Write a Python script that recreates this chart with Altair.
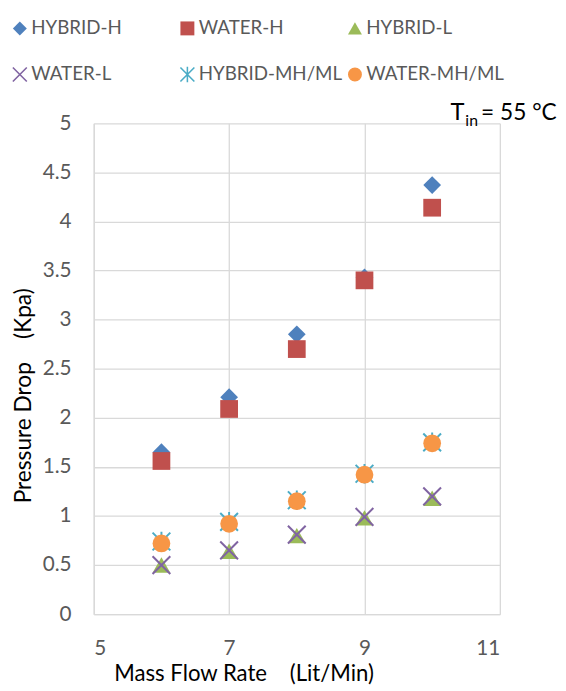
import altair as alt
import pandas as pd

# ---- data ----
flow_rate = [6, 7, 8, 9, 10]
series_names = ["HYBRID-H", "WATER-H", "HYBRID-L", "WATER-L", "HYBRID-MH/ML", "WATER-MH/ML"]
hybrid_h = [1.65, 2.21, 2.85, 3.43, 4.37]
water_h = [1.56, 2.09, 2.70, 3.40, 4.14]
hybrid_l = [0.50, 0.64, 0.80, 0.98, 1.18]
water_l = [0.50, 0.65, 0.81, 0.99, 1.20]
hybrid_mhml = [0.74, 0.94, 1.16, 1.43, 1.75]
water_mhml = [0.72, 0.92, 1.15, 1.42, 1.74]
x_ticks = [5, 7, 9, 11]
y_ticks = [0, 0.5, 1, 1.5, 2, 2.5, 3, 3.5, 4, 4.5, 5]

colors = ["#4F81BD", "#C0504D", "#9BBB59", "#8064A2", "#4BACC6", "#F79646"]
X_PATH = ("M-0.92,-1.08L1.08,0.92L0.92,1.08L-1.08,-0.92Z "
          "M-1.08,0.92L0.92,-1.08L1.08,-0.92L-0.92,1.08Z")
AST_PATH = ("M-0.92,-1.08L1.08,0.92L0.92,1.08L-1.08,-0.92Z "
            "M-1.08,0.92L0.92,-1.08L1.08,-0.92L-0.92,1.08Z "
            "M-0.11,-1.1L0.11,-1.1L0.11,1.1L-0.11,1.1Z")
shapes = ["diamond", "square", "triangle-up", X_PATH, AST_PATH, "circle"]

rows = []
for name, vals in zip(series_names, [hybrid_h, water_h, hybrid_l, water_l, hybrid_mhml, water_mhml]):
    for f, v in zip(flow_rate, vals):
        rows.append({"series": name, "flow": f, "drop": v})
df = pd.DataFrame(rows)

# legend fills column by column (2 rows), so order the scale domain accordingly
legend_order = [0, 3, 1, 4, 2, 5]
dom = [series_names[i] for i in legend_order]
col_rng = [colors[i] for i in legend_order]
shp_rng = [shapes[i] for i in legend_order]

FONT = "Lato"
GRID = "#D9D9D9"

legend_kw = dict(
    title=None, orient="none", legendX=-84.5, legendY=-106, columns=3,
    gridAlign="all", symbolSize=200, symbolStrokeWidth=0,
    labelFont=FONT, labelFontSize=19, labelColor="#595959", labelOffset=2,
    labelLimit=300, rowPadding=27, columnPadding=3, padding=0,
)

points = alt.Chart(df).mark_point(filled=True, size=324, opacity=1, strokeWidth=0).encode(
    x=alt.X("flow:Q",
            scale=alt.Scale(domain=[5, 11], nice=False, zero=False),
            axis=alt.Axis(values=x_ticks, title="Mass Flow Rate\u00a0\u00a0\u00a0\u00a0(Lit/Min)",
                          labelPadding=24, titleX=152, titleY=67, titleAlign="center",
                          titleBaseline="alphabetic")),
    y=alt.Y("drop:Q",
            scale=alt.Scale(domain=[0, 5], nice=False),
            axis=alt.Axis(values=y_ticks, format="~g", title="Pressure Drop\u00a0\u00a0\u00a0\u00a0(Kpa)",
                          labelPadding=23, titleX=-64, titleY=276, titleAlign="center",
                          titleBaseline="alphabetic", titleFontSize=23)),
    color=alt.Color("series:N", scale=alt.Scale(domain=dom, range=col_rng),
                    legend=alt.Legend(**legend_kw)),
    shape=alt.Shape("series:N", scale=alt.Scale(domain=dom, range=shp_rng),
                    legend=alt.Legend(**legend_kw)),
)

one = pd.DataFrame({"k": [0]})
t_main = alt.Chart(one).mark_text(align="left", baseline="alphabetic", font=FONT, fontSize=24,
                                  color="black", text="T").encode(x=alt.value(362), y=alt.value(-3))
t_sub = alt.Chart(one).mark_text(align="left", baseline="alphabetic", font=FONT, fontSize=16,
                                 color="black", text="in").encode(x=alt.value(377), y=alt.value(3))
t_rest = alt.Chart(one).mark_text(align="left", baseline="alphabetic", font=FONT, fontSize=23,
                                  color="black", text="= 55 \u00b0C").encode(x=alt.value(393), y=alt.value(-3))

chart = alt.layer(points, t_main, t_sub, t_rest).properties(
    width=412, height=498,
    autosize=alt.AutoSizeParams(type="none"),
    padding={"left": 87, "top": 112, "right": 59, "bottom": 71},
).configure_axis(
    grid=True, gridColor=GRID, gridWidth=1.3, domainColor=GRID, domainWidth=1.3,
    ticks=False, tickSize=0, labelFont=FONT, labelFontSize=21, labelColor="#595959",
    titleFont=FONT, titleFontSize=22.5, titleColor="black", titleFontWeight="normal",
).configure_view(strokeWidth=0)

chart.save("out.html", embed_options={"renderer": "svg", "actions": False})
